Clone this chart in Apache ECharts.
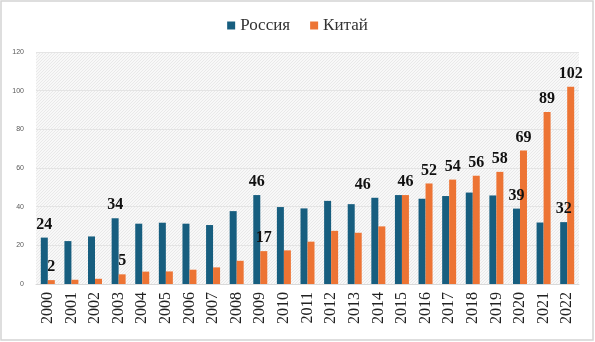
<!DOCTYPE html>
<html>
<head>
<meta charset="utf-8">
<script src="https://cdn.jsdelivr.net/npm/echarts@6/dist/echarts.min.js"></script>
<style>
html,body{margin:0;padding:0;background:#fff;}
#c{width:595px;height:342px;}
</style>
</head>
<body>
<div id="c"></div>
<script>
const years = ['2000','2001','2002','2003','2004','2005','2006','2007','2008','2009','2010','2011','2012','2013','2014','2015','2016','2017','2018','2019','2020','2021','2022'];
const russia = [24, 22.2, 24.6, 34, 31.2, 31.7, 31.2, 30.5, 37.7, 46, 39.8, 39.1, 43, 41.3, 44.6, 46, 44.1, 45.5, 47.3, 45.8, 39, 31.8, 32];
const china = [2, 2.2, 2.7, 5, 6.4, 6.5, 7.4, 8.6, 12, 17, 17.4, 21.9, 27.5, 26.5, 29.8, 46, 52, 54, 56, 58, 69, 89, 102];
const russiaLabels = ['24','','','34','','','','','','46','','','','','46','','','','','','39','','32'];
const chinaLabels = ['2','','','5','','','','','','17','','','','','','46','52','54','56','58','69','89','102'];
const yTicks = [0, 20, 40, 60, 80, 100, 120];

const labelFont = {fontFamily:'"Liberation Serif", "Times New Roman", serif', fontWeight:'bold', fontSize:16, color:'#111'};

function buildData(vals, labels, offsets){
  return vals.map((v,i)=>{
    if(!labels[i]) return v;
    return {value:v, label:Object.assign({show:true, position:'top', distance:5, formatter:labels[i], offset: offsets[i]||[0,0]}, labelFont)};
  });
}

// hatch pattern for the plot area
const pc = document.createElement('canvas');
pc.width = 3; pc.height = 3;
const px = pc.getContext('2d');
px.fillStyle = '#f8f8f8'; px.fillRect(0,0,3,3);
px.fillStyle = '#e9e9e9';
px.fillRect(2,0,1,1); px.fillRect(1,1,1,1); px.fillRect(0,2,1,1);

const chart = echarts.init(document.getElementById('c'), null, {renderer:'canvas'});
chart.setOption({
  animation:false,
  backgroundColor:'#fff',
  graphic:[{type:'rect', shape:{x:1, y:1, width:592, height:339}, style:{fill:'none', stroke:'#d4d4d4', lineWidth:1.5}, silent:true}],
  legend:{
    top:12, left:'center', itemWidth:8, itemHeight:8, itemGap:20, icon:'rect',
    textStyle:{fontFamily:'"Liberation Serif", "Times New Roman", serif', fontSize:17, color:'#333'}
  },
  grid:{left:36, right:16, top:52, bottom:58, show:true, borderWidth:0,
    backgroundColor:{image:pc, repeat:'repeat'}},
  xAxis:{
    type:'category', data:years,
    axisLine:{lineStyle:{color:'#d9d9d9'}},
    axisTick:{show:false},
    axisLabel:{rotate:90, margin:8, fontFamily:'"Liberation Serif", "Times New Roman", serif', fontSize:16, color:'#222'}
  },
  yAxis:{
    type:'value', min:0, max:120, interval:20,
    axisLine:{show:false}, axisTick:{show:false},
    axisLabel:{fontSize:7, color:'#595959', margin:12, fontFamily:'"Liberation Sans", Arial, sans-serif',
      formatter:(v)=> yTicks.includes(v) ? String(v) : ''},
    splitLine:{lineStyle:{color:'#e4e4e4', width:1}}
  },
  series:[
    {name:'Россия', type:'bar', barWidth:7, barGap:'0%', itemStyle:{color:'#175e7f'},
      data:buildData(russia, russiaLabels, {14:[-12,0]})},
    {name:'Китай', type:'bar', barWidth:7, itemStyle:{color:'#ed7434'},
      data:buildData(china, chinaLabels, {})}
  ]
});
</script>
</body>
</html>
